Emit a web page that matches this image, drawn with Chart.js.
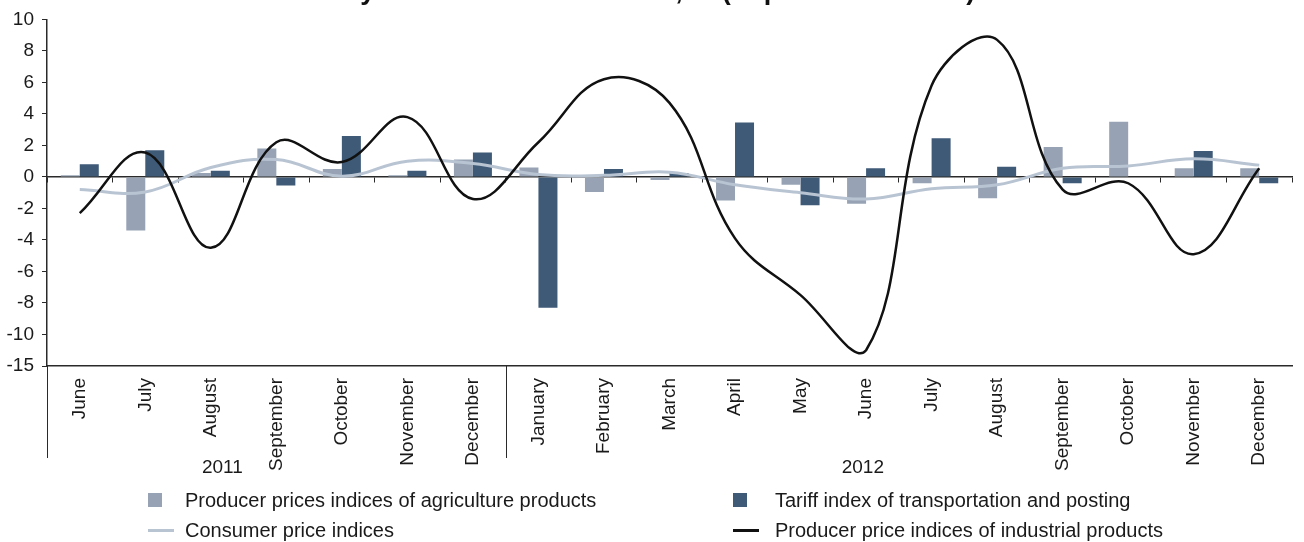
<!DOCTYPE html>
<html>
<head>
<meta charset="utf-8">
<script src="https://cdn.jsdelivr.net/npm/chart.js@4.4.0/dist/chart.umd.min.js"></script>
<style>
  html, body { margin: 0; padding: 0; background: #fff; }
  #wrap { position: relative; width: 1304px; height: 542px; }
  #legend { position: absolute; left: 0; top: 0; width: 1304px; height: 542px; pointer-events: none;
            font: 20px "Liberation Sans", Arial, sans-serif; color: #1a1a1a; }
  .item { position: absolute; display: flex; align-items: center; height: 24px; white-space: nowrap; }
  .mark { flex: none; display: flex; align-items: center; }
</style>
</head>
<body>
<div id="wrap">
  <canvas id="chart"></canvas>
  <div id="legend"></div>
</div>
<script>
// --- Data ---
const months = ['June', 'July', 'August', 'September', 'October', 'November', 'December',
                'January', 'February', 'March', 'April', 'May', 'June', 'July', 'August',
                'September', 'October', 'November', 'December'];
const yearGroups = [
    { label: '2011', first: 0, last: 6 },
    { label: '2012', first: 7, last: 18 }
];
const agriculture = [0.1, -3.4, 0.25, 1.8, 0.5, 0.1, 1.1, 0.6, -0.95, -0.2, -1.5, -0.5, -1.7, -0.4, -1.35, 1.9, 3.5, 0.55, 0.55];
const tariff      = [0.8, 1.7, 0.4, -0.55, 2.6, 0.4, 1.55, -8.3, 0.5, 0.25, 3.45, -1.8, 0.55, 2.45, 0.65, -0.4, 0, 1.65, -0.4];
const consumer    = [-0.8, -0.95, 0.6, 1.1, 0.05, 1.0, 0.85, 0.15, 0.1, 0.3, -0.5, -1.0, -1.4, -0.75, -0.5, 0.55, 0.7, 1.15, 0.75];
const industrial  = [-2.3, 1.55, -4.5, 2.2, 0.95, 3.8, -1.4, 2.2, 6.2, 4.7, -3.9, -7.5, -11.0, 5.8, 8.7, -0.8, -0.4, -4.9, 0.55];
// the lowest tick is labelled -15 in the source chart
const yTickLabels = ['-15', '-10', '-8', '-6', '-4', '-2', '0', '2', '4', '6', '8', '10'];
const chartTitle = 'Dynamics of Price Indices, % (to previous month)';

const FONT = '"Liberation Sans", Arial, sans-serif';
const TEXT = '#1a1a1a';
const AXIS = '#2a2a2a';
Chart.defaults.font.family = FONT;
Chart.defaults.color = TEXT;

// year captions sit left of their group's middle in the source
const yearShift = { '2011': -54, '2012': -36 };

// --- Title (clipped by the top edge), year captions and the lines under the axis ---
const extras = {
    id: 'extras',
    afterDraw(chart) {
        const { ctx, chartArea, scales: { x } } = chart;
        ctx.save();
        ctx.font = 'bold 27px ' + FONT;
        ctx.fillStyle = '#111';
        ctx.textAlign = 'center';
        ctx.textBaseline = 'alphabetic';
        ctx.fillText(chartTitle, 658, -1.5);

        const half = (x.getPixelForValue(1) - x.getPixelForValue(0)) / 2;
        const lowEnd = chartArea.bottom + 92;
        ctx.strokeStyle = AXIS;
        ctx.lineWidth = 1;
        const seps = [chartArea.left, x.getPixelForValue(yearGroups[1].first) - half];
        seps.forEach(px => {
            const xx = Math.round(px) + 0.5;
            ctx.beginPath();
            ctx.moveTo(xx, chartArea.bottom);
            ctx.lineTo(xx, lowEnd);
            ctx.stroke();
        });

        ctx.font = '19px ' + FONT;
        ctx.fillStyle = TEXT;
        ctx.textBaseline = 'middle';
        yearGroups.forEach(g => {
            const l = x.getPixelForValue(g.first) - half;
            const r = x.getPixelForValue(g.last) + half;
            ctx.fillText(g.label, (l + r) / 2 + yearShift[g.label], chartArea.bottom + 102);
        });
        ctx.restore();
    }
};

const chart = new Chart(document.getElementById('chart'), {
    data: {
        labels: months,
        datasets: [
            { type: 'bar', label: 'Producer prices indices of agriculture products', data: agriculture,
              backgroundColor: '#97a3b4', order: 2, categoryPercentage: 0.58, barPercentage: 1 },
            { type: 'bar', label: 'Tariff index of transportation and posting', data: tariff,
              backgroundColor: '#3e5a77', order: 2, categoryPercentage: 0.58, barPercentage: 1 },
            { type: 'line', label: 'Consumer price indices', data: consumer,
              borderColor: '#b9c4d3', borderWidth: 3, tension: 0.4, pointRadius: 0, order: 1 },
            { type: 'line', label: 'Producer price indices of industrial products', data: industrial,
              borderColor: '#111', borderWidth: 2.5, tension: 0.4, pointRadius: 0, order: 0 }
        ]
    },
    options: {
        responsive: true,
        maintainAspectRatio: false,
        animation: false,
        layout: { padding: { top: 14, right: 12, left: 0, bottom: 0 } },
        plugins: { legend: { display: false }, tooltip: { enabled: false } },
        scales: {
            x: {
                type: 'category',
                grid: { display: false, drawTicks: false },
                border: { display: true, color: AXIS, width: 1.5 },
                ticks: { autoSkip: false, minRotation: 90, maxRotation: 90, padding: 12,
                         color: TEXT, font: { size: 19 } },
                afterFit: s => { s.height = 176; }
            },
            zero: {
                type: 'category', axis: 'x', position: { y: 0 },
                offset: true,
                grid: { drawOnChartArea: false, drawTicks: true, tickLength: 5, offset: true, color: AXIS },
                border: { display: true, color: AXIS, width: 1.5 },
                ticks: { display: false }
            },
            y: {
                min: -12, max: 10,
                ticks: { stepSize: 2, padding: 8, color: TEXT, font: { size: 19 },
                         callback: (v, i) => yTickLabels[i] },
                grid: { drawOnChartArea: false, tickLength: 5, color: AXIS },
                border: { color: AXIS, width: 1.5 },
                afterFit: s => { s.width = 47; }
            }
        }
    },
    plugins: [extras]
});

// --- HTML legend built from the datasets, two columns ---
const legendEl = document.getElementById('legend');
const cols = [{ left: 148, mark: 37 }, { left: 733, mark: 42 }];
const rows = [488, 518];
chart.data.datasets.forEach((ds, i) => {
    const col = cols[i % 2];
    const item = document.createElement('div');
    item.className = 'item';
    item.style.left = col.left + 'px';
    item.style.top = rows[Math.floor(i / 2)] + 'px';
    const mark = document.createElement('span');
    mark.className = 'mark';
    mark.style.width = col.mark + 'px';
    const sw = document.createElement('span');
    if (ds.type === 'bar') {
        sw.style.cssText = `width:14px;height:14px;background:${ds.backgroundColor}`;
    } else {
        sw.style.cssText = `width:26px;height:3px;background:${ds.borderColor}`;
    }
    mark.appendChild(sw);
    item.appendChild(mark);
    item.appendChild(document.createTextNode(ds.label));
    legendEl.appendChild(item);
});
</script>
</body>
</html>
